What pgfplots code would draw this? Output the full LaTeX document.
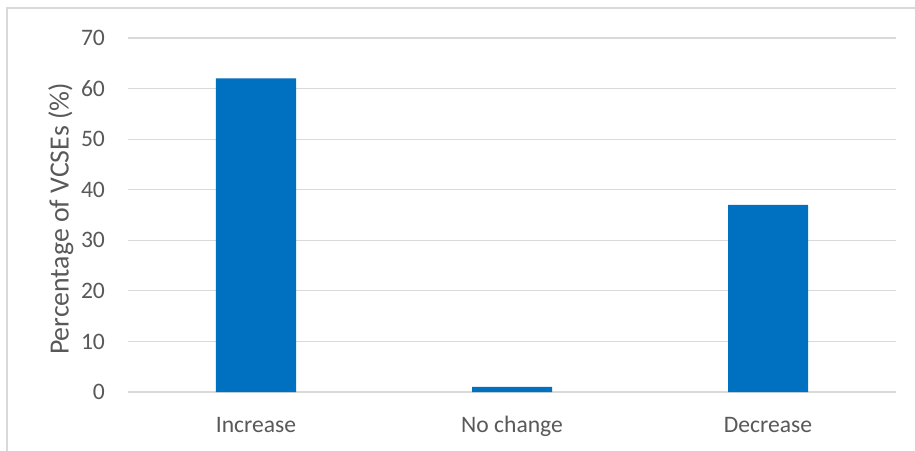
\documentclass[border=0pt]{standalone}
\usepackage{fontspec}
\setmainfont{Carlito}
\usepackage{pgfplots}
\pgfplotsset{compat=1.18}
\definecolor{barblue}{HTML}{0070C0}
\definecolor{gridgray}{HTML}{D9D9D9}
\definecolor{textgray}{HTML}{595959}
\begin{document}
\begin{tikzpicture}
\useasboundingbox (-64pt,-29pt) rectangle (393.5pt,196pt);
\fill[white] (-64pt,-29pt) rectangle (393.5pt,196pt);
\draw[gridgray, line width=0.8pt] (-60.5pt,-40pt) -- (-60.5pt,192pt) -- (400pt,192pt);
\begin{axis}[
  at={(0pt,0pt)}, anchor=south west,
  scale only axis, width=384pt, height=177pt,
  xmin=-0.5, xmax=2.5, ymin=0, ymax=70,
  xtick={0,1,2}, xticklabels={Increase,No change,Decrease},
  ytick={0,10,...,70},
  axis line style={draw=none},
  major tick length=0pt,
  ymajorgrids, grid style={gridgray, line width=0.6pt},
  font=\fontsize{11.8}{14}\selectfont,
  tick label style={textgray},
  xticklabel style={anchor=base, yshift=-20pt},
  yticklabel style={xshift=-8pt},
  /pgf/number format/assume math mode=true,
  ylabel={Percentage of VCSEs (\%)},
  every axis y label/.style={at={(axis description cs:-0.0875,0.489)}, rotate=90, anchor=center, textgray, font=\fontsize{13.9}{16}\selectfont},
  clip=false,
]
\addplot[ybar, bar width=40pt, fill=barblue, draw=none] coordinates {(0,62) (1,1) (2,37)};
\end{axis}
\end{tikzpicture}
\end{document}
